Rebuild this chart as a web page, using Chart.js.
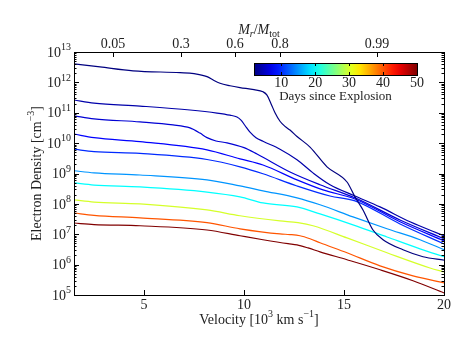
<!DOCTYPE html>
<html>
<head>
<meta charset="utf-8">
<script src="https://cdn.jsdelivr.net/npm/chart.js@4"></script>
<style>
html, body { margin: 0; padding: 0; background: #fff; }
</style>
</head>
<body>
<canvas id="myChart" width="463" height="348"></canvas>
<script>
// days since explosion for each curve (colour from the jet map)
var days = [2, 4, 6, 8, 10, 15, 20, 30, 40, 50];

// velocity in 10^3 km/s
var vel2  = [1.5, 2.8, 4.45, 6.8, 7.5, 8.15, 8.5, 8.8, 9.3, 9.8, 10.5, 10.95, 11.15, 11.35, 11.55, 11.8, 12.05, 12.3, 12.65, 13.3, 14.15, 15.15, 15.55, 15.95, 16.45, 16.95, 17.95, 18.95, 20];
var vel4  = [1.5, 2.5, 4.8, 7.3, 8.65, 9.3, 9.65, 9.85, 10.05, 10.3, 10.6, 10.95, 11.8, 12.65, 13.45, 14.3, 15.55, 16.8, 18.3, 20];
var vel6  = [1.5, 2.5, 4.8, 6.45, 7.3, 7.8, 8.15, 8.6, 9.15, 10.0, 10.65, 12.3, 13.8, 15.55, 17.8, 20];
var vel8  = [1.5, 2.5, 4.8, 8.15, 9.8, 10.95, 12.65, 13.95, 15.55, 17.8, 20];
var vel10 = [1.5, 2.5, 4.8, 8.15, 9.8, 10.95, 12.65, 14.3, 15.55, 17.8, 20];
var vel15 = [1.5, 2.5, 4.8, 8.15, 9.8, 10.95, 12.65, 13.8, 15.45, 17.15, 18.8, 20];
var vel20 = [1.5, 2.5, 4.8, 8.15, 9.8, 10.95, 12.65, 13.8, 15.45, 17.15, 18.8, 20];
var vel30 = [1.5, 2.5, 4.8, 8.15, 9.8, 11.8, 12.7, 13.45, 15.15, 17.15, 19.3, 20];
var vel40 = [1.5, 2.5, 4.8, 8.15, 9.8, 11.8, 12.3, 12.8, 13.3, 13.8, 15.15, 16.8, 18.45, 20];
var vel50 = [1.5, 2.5, 4.8, 8.15, 9.8, 10.95, 12.2, 12.65, 13.2, 13.8, 15.15, 16.8, 18.45, 20];

// log10 of electron density (cm^-3)
var ne2  = [12.61, 12.51, 12.38, 12.32, 12.29, 12.19, 12.06, 11.97, 11.89, 11.83, 11.76, 11.69, 11.58, 11.30, 11.00, 10.72, 10.55, 10.43, 10.22, 9.87, 9.22, 8.72, 8.23, 7.80, 7.14, 6.82, 6.49, 6.26, 6.15];
var ne4  = [11.42, 11.32, 11.22, 11.09, 10.99, 10.92, 10.86, 10.76, 10.58, 10.36, 10.18, 10.06, 9.80, 9.45, 9.02, 8.63, 8.26, 7.90, 7.41, 6.95];
var ne6  = [10.90, 10.80, 10.70, 10.60, 10.50, 10.33, 10.18, 10.07, 10.01, 9.85, 9.64, 9.05, 8.63, 8.20, 7.47, 6.85];
var ne8  = [10.30, 10.18, 10.05, 9.78, 9.48, 9.28, 8.79, 8.46, 8.16, 7.41, 6.78];
var ne10 = [9.80, 9.72, 9.66, 9.46, 9.22, 8.99, 8.59, 8.26, 8.10, 7.34, 6.68];
var ne15 = [9.09, 9.02, 8.95, 8.79, 8.59, 8.43, 8.20, 7.97, 7.57, 7.18, 6.82, 6.49];
var ne20 = [8.69, 8.62, 8.56, 8.39, 8.23, 8.03, 7.90, 7.67, 7.31, 6.91, 6.52, 6.26];
var ne30 = [8.13, 8.06, 8.00, 7.80, 7.61, 7.44, 7.38, 7.28, 6.88, 6.39, 5.89, 5.76];
var ne40 = [7.70, 7.62, 7.54, 7.38, 7.18, 7.01, 6.99, 6.95, 6.85, 6.72, 6.39, 5.96, 5.63, 5.40];
var ne50 = [7.37, 7.32, 7.28, 7.14, 6.95, 6.82, 6.69, 6.65, 6.55, 6.42, 6.16, 5.83, 5.47, 5.07];

var velocities = [vel2, vel4, vel6, vel8, vel10, vel15, vel20, vel30, vel40, vel50];
var densities  = [ne2, ne4, ne6, ne8, ne10, ne15, ne20, ne30, ne40, ne50];

// axis ticks
var xTicks = [5, 10, 15, 20];
var yExponents = [5, 6, 7, 8, 9, 10, 11, 12, 13];
var massTickVel = [3.45, 6.85, 9.55, 11.8, 16.65];
var massTickLabels = ['0.05', '0.3', '0.6', '0.8', '0.99'];
var cbarTicks = [10, 20, 30, 40, 50];
var dayMin = 2, dayMax = 50;

var FONT = '"Liberation Serif", "DejaVu Serif", serif';

function clamp(a) { return Math.max(0, Math.min(1, a)); }
function jet(t) {
    var r = clamp(1.5 - Math.abs(4 * t - 3));
    var g = clamp(1.5 - Math.abs(4 * t - 2));
    var b = clamp(1.5 - Math.abs(4 * t - 1));
    return 'rgb(' + Math.round(r * 255) + ',' + Math.round(g * 255) + ',' + Math.round(b * 255) + ')';
}

function fontFor(p, size) {
    var s = (p.sup || p.sub) ? Math.round(size * 0.72) : size;
    return (p.it ? 'italic ' : '') + s + 'px ' + FONT;
}

// draw text made of pieces with super/subscripts
function drawRich(ctx, parts, x, y, size, align) {
    var w = 0;
    parts.forEach(function (p) {
        ctx.font = fontFor(p, size);
        p.w = ctx.measureText(p.t).width;
        w += p.w;
    });
    var sx = align === 'right' ? x - w : x - w / 2;
    ctx.textAlign = 'left';
    ctx.textBaseline = 'middle';
    parts.forEach(function (p) {
        ctx.font = fontFor(p, size);
        var dy = p.sup ? -size * 0.38 : (p.sub ? size * 0.28 : 0);
        ctx.fillText(p.t, sx, y + dy);
        sx += p.w;
    });
}

var axesPlugin = {
    id: 'mplAxes',
    afterDraw: function (chart) {
        var ctx = chart.ctx;
        var a = chart.chartArea;
        var xs = chart.scales.x, ys = chart.scales.y;
        ctx.save();
        ctx.strokeStyle = '#000';
        ctx.fillStyle = '#222';
        ctx.lineWidth = 1;

        // frame
        ctx.strokeRect(Math.round(a.left) + 0.5, Math.round(a.top) + 0.5,
            Math.round(a.right - a.left), Math.round(a.bottom - a.top));

        ctx.beginPath();
        // y ticks, major and minor, both sides
        yExponents.forEach(function (e) {
            var y = Math.round(ys.getPixelForValue(Math.pow(10, e))) + 0.5;
            ctx.moveTo(a.left, y); ctx.lineTo(a.left + 5, y);
            ctx.moveTo(a.right, y); ctx.lineTo(a.right - 5, y);
            if (e < 13) {
                for (var m = 2; m < 10; m++) {
                    var ym = Math.round(ys.getPixelForValue(m * Math.pow(10, e))) + 0.5;
                    ctx.moveTo(a.left, ym); ctx.lineTo(a.left + 2.5, ym);
                    ctx.moveTo(a.right, ym); ctx.lineTo(a.right - 2.5, ym);
                }
            }
        });
        // bottom ticks
        xTicks.forEach(function (v) {
            var x = Math.round(xs.getPixelForValue(v)) + 0.5;
            ctx.moveTo(x, a.bottom); ctx.lineTo(x, a.bottom - 5);
        });
        // top ticks (mass coordinate)
        massTickVel.forEach(function (v) {
            var x = Math.round(xs.getPixelForValue(v)) + 0.5;
            ctx.moveTo(x, a.top); ctx.lineTo(x, a.top + 5);
        });
        ctx.stroke();

        // y tick labels 10^n
        yExponents.forEach(function (e) {
            var y = ys.getPixelForValue(Math.pow(10, e));
            drawRich(ctx, [{ t: '10' }, { t: String(e), sup: true }], a.left - 3, y + 1, 14, 'right');
        });
        // bottom tick labels
        ctx.font = '14px ' + FONT;
        ctx.textAlign = 'center';
        ctx.textBaseline = 'middle';
        xTicks.forEach(function (v) {
            ctx.fillText(String(v), xs.getPixelForValue(v), a.bottom + 10);
        });
        // top tick labels
        massTickVel.forEach(function (v, i) {
            ctx.fillText(massTickLabels[i], xs.getPixelForValue(v), a.top - 8);
        });

        var cx = (a.left + a.right) / 2;
        // axis titles
        drawRich(ctx, [{ t: 'Velocity [10' }, { t: '3', sup: true }, { t: ' km s' }, { t: '\u22121', sup: true }, { t: ']' }],
            cx, a.bottom + 25, 14);
        drawRich(ctx, [{ t: 'M', it: true }, { t: 'r', it: true, sub: true }, { t: '/' }, { t: 'M', it: true }, { t: 'tot', sub: true }],
            cx, a.top - 22, 14);
        ctx.save();
        ctx.translate(a.left - 37, (a.top + a.bottom) / 2);
        ctx.rotate(-Math.PI / 2);
        drawRich(ctx, [{ t: 'Electron Density [cm' }, { t: '\u22123', sup: true }, { t: ']' }], 0, 0, 14);
        ctx.restore();

        // colour bar
        var cbL = 254, cbR = 417, cbT = 63, cbB = 75;
        var grad = ctx.createLinearGradient(cbL, 0, cbR, 0);
        for (var i = 0; i <= 20; i++) grad.addColorStop(i / 20, jet(i / 20));
        ctx.fillStyle = grad;
        ctx.fillRect(cbL, cbT, cbR - cbL, cbB - cbT);
        ctx.strokeStyle = '#000';
        ctx.strokeRect(cbL + 0.5, cbT + 0.5, cbR - cbL, cbB - cbT);
        ctx.beginPath();
        cbarTicks.forEach(function (d) {
            var x = Math.round(cbL + (d - dayMin) / (dayMax - dayMin) * (cbR - cbL)) + 0.5;
            ctx.moveTo(x, cbT); ctx.lineTo(x, cbT + 3);
            ctx.moveTo(x, cbB); ctx.lineTo(x, cbB - 3);
        });
        ctx.stroke();
        ctx.fillStyle = '#222';
        ctx.font = '14px ' + FONT;
        ctx.textAlign = 'center';
        ctx.textBaseline = 'middle';
        cbarTicks.forEach(function (d) {
            ctx.fillText(String(d), cbL + (d - dayMin) / (dayMax - dayMin) * (cbR - cbL), cbB + 8);
        });
        ctx.font = '13px ' + FONT;
        ctx.fillText('Days since Explosion', (cbL + cbR) / 2, cbB + 22);
        ctx.restore();
    }
};

var datasets = days.map(function (d, i) {
    return {
        label: d + ' days',
        data: velocities[i].map(function (v, j) { return { x: v, y: Math.pow(10, densities[i][j]) }; }),
        showLine: true,
        pointRadius: 0,
        borderWidth: 1.2,
        borderColor: jet((d - dayMin) / (dayMax - dayMin)),
        cubicInterpolationMode: 'monotone',
        fill: false
    };
});

var ctx = document.getElementById('myChart');
var myChart = new Chart(ctx, {
    type: 'scatter',
    data: { datasets: datasets },
    options: {
        responsive: false,
        animation: false,
        devicePixelRatio: 1,
        layout: { padding: { left: 74, top: 52, right: 19, bottom: 53 } },
        plugins: { legend: { display: false }, tooltip: { enabled: false } },
        scales: {
            x: { type: 'linear', min: 1.5, max: 20, display: false },
            y: { type: 'logarithmic', min: 1e5, max: 1e13, display: false }
        }
    },
    plugins: [axesPlugin]
});
</script>
</body>
</html>
